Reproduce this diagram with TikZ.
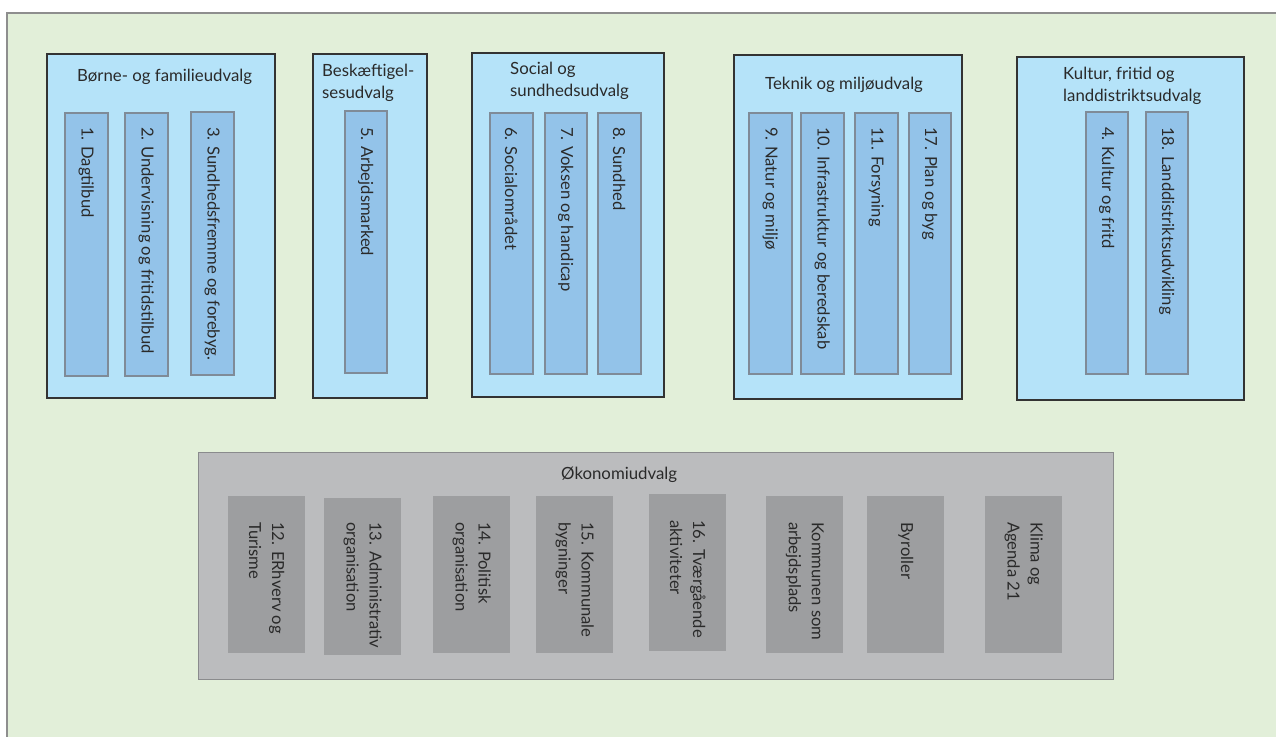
\documentclass[tikz,border=0pt]{standalone}
\usepackage{fontspec}
\setmainfont{Lato}
\definecolor{bggreen}{HTML}{E2EFD9}
\definecolor{outerline}{HTML}{8E8E8E}
\definecolor{grpfill}{HTML}{B5E3F9}
\definecolor{grpline}{HTML}{333333}
\definecolor{subfill}{HTML}{93C3E9}
\definecolor{subline}{HTML}{7F8B98}
\definecolor{ecofill}{HTML}{BBBCBE}
\definecolor{ecoline}{HTML}{8A8B8D}
\definecolor{ecosubfill}{HTML}{9D9EA0}
\definecolor{txt}{HTML}{2A2A2A}
\newcommand\mybox[8]{%
  \node[#2, minimum width={(#5-#3)*1pt}, minimum height={(#6-#4)*1pt}, anchor=north west] (#1) at (#3,#4) {};
  \node[vtxt, anchor=west] (#1t) at ([yshift=-#7pt]#1.north) {#8};}
\begin{document}
\begin{tikzpicture}[x=1pt,y=-1pt,
  grp/.style={draw=grpline, fill=grpfill, line width=1.6pt, inner sep=0},
  sub/.style={draw=subline, fill=subfill, line width=1.5pt, inner sep=0},
  eco/.style={draw=ecoline, fill=ecofill, line width=1.4pt, inner sep=0},
  ecosub/.style={fill=ecosubfill, inner sep=0},
  vtxt/.style={rotate=-90, align=left, inner sep=0, text=txt, font=\fontsize{16.6}{23}\selectfont},
  ttl/.style={align=left, inner sep=0, text=txt, font=\fontsize{16.8}{22}\selectfont, anchor=west}]
\useasboundingbox (0,0) rectangle (1276,736);
\clip (0,0) rectangle (1276,736);
\fill[white] (0,0) rectangle (1276,736);
\fill[bggreen] (7,13) rectangle (1290,750);
\draw[outerline, line width=1.5pt] (1290,13) -- (7,13) -- (7,750);

% groups
\node[grp, minimum width=228pt, minimum height=344pt, anchor=north west] (g1) at (46,53) {};
\node[grp, minimum width=114pt, minimum height=344pt, anchor=north west] (g2) at (312,53) {};
\node[grp, minimum width=192pt, minimum height=344pt, anchor=north west] (g3) at (471,52) {};
\node[grp, minimum width=228pt, minimum height=344pt, anchor=north west] (g4) at (733,54) {};
\node[grp, minimum width=227pt, minimum height=343pt, anchor=north west] (g5) at (1016,56) {};
\node[ttl] (g1t) at (77,77) {Børne- og familieudvalg};
\node[ttl] (g2t) at (322,83) {Beskæftigel-\\sesudvalg};
\node[ttl] (g3t) at (510,81) {Social og\\sundhedsudvalg};
\node[ttl] (g4t) at (765,85) {Teknik og miljøudvalg};
\node[ttl] (g5t) at (1063,86) {Kultur, fritid og\\landdistriktsudvalg};

% sub boxes
\mybox{s1}{sub}{64}{112}{107}{375}{15}{1. Dagtilbud}
\mybox{s2}{sub}{124}{112}{167}{375}{15}{2. Undervisning og fritidstilbud}
\mybox{s3}{sub}{190}{111}{233}{374}{16}{3. Sundhedsfremme og forebyg.}
\mybox{s5}{sub}{344}{110}{386}{372}{17}{5. Arbejdsmarked}
\mybox{s6}{sub}{489}{112}{532}{373}{15}{6. Socialområdet}
\mybox{s7}{sub}{544}{112}{586}{373}{15}{7. Voksen og handicap}
\mybox{s8}{sub}{597}{112}{640}{373}{15}{8. Sundhed}
\mybox{s9}{sub}{748}{112}{791}{373}{15}{9. Natur og miljø}
\mybox{s10}{sub}{800}{112}{843}{373}{15}{10. Infrastruktur og beredskab}
\mybox{s11}{sub}{854}{112}{897}{373}{15}{11. Forsyning}
\mybox{s17}{sub}{908}{112}{950}{373}{15}{17. Plan og byg}
\mybox{s4}{sub}{1085}{111}{1127}{373}{16}{4. Kultur og fritd}
\mybox{s18}{sub}{1145}{111}{1187}{373}{16}{18. Landdistriktsudvikling}

% economy
\node[eco, minimum width=915pt, minimum height=227pt, anchor=north west] (eco) at (198,452) {};
\node[ttl] (ecot) at (561,475) {Økonomiudvalg};
\mybox{e12}{ecosub}{228}{496}{305}{653}{26}{12. ERhverv og\\Turisme}
\mybox{e13}{ecosub}{324}{498}{401}{655}{24}{13. Administrativ\\organisation}
\mybox{e14}{ecosub}{433}{496}{510}{653}{26}{14. Politisk\\organisation}
\mybox{e15}{ecosub}{536}{496}{613}{653}{26}{15. Kommunale\\bygninger}
\mybox{e16}{ecosub}{649}{494}{726}{651}{26}{16. Tværgående\\aktiviteter}
\mybox{ek}{ecosub}{766}{496}{843}{653}{26}{Kommunen som\\arbejdsplads}
\mybox{eb}{ecosub}{867}{496}{944}{653}{26}{Byroller}
\mybox{ekl}{ecosub}{985}{496}{1062}{653}{26}{Klima og\\Agenda 21}
\end{tikzpicture}
\end{document}
